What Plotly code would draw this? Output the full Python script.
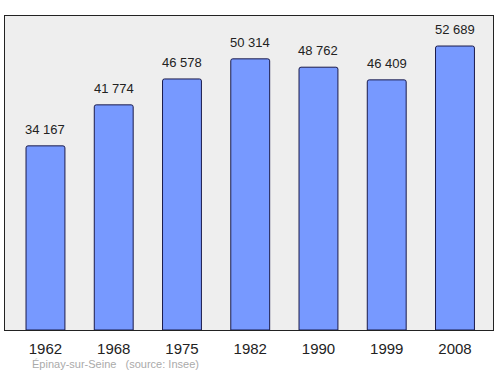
import plotly.graph_objects as go

years = ["1962", "1968", "1975", "1982", "1990", "1999", "2008"]
population = [34167, 41774, 46578, 50314, 48762, 46409, 52689]
labels = ["34 167", "41 774", "46 578", "50 314", "48 762", "46 409", "52 689"]

xs = list(range(len(years)))
font = "Liberation Sans, Arial, sans-serif"

fig = go.Figure()
fig.add_trace(go.Bar(
    x=xs, y=population, width=0.57,
    marker=dict(color="#7799ff", line=dict(color="#1a1a4a", width=1), cornerradius=2),
    hoverinfo="skip",
))
for x, v, t in zip(xs, population, labels):
    fig.add_annotation(x=x, y=v, text=t, showarrow=False, yanchor="bottom", yshift=7,
                       font=dict(family=font, size=13, color="#222"))
fig.add_annotation(xref="paper", yref="paper", x=0.052, y=-0.084, xanchor="left", yanchor="top",
                   text="Épinay-sur-Seine &nbsp; (source: Insee)", showarrow=False,
                   font=dict(family=font, size=11, color="#aaaaaa"))

fig.update_layout(
    width=500, height=374,
    margin=dict(l=5, r=7, t=16, b=44),
    paper_bgcolor="white", plot_bgcolor="#eeeeee",
    showlegend=False,
    xaxis=dict(range=[-0.593, 6.557], tickvals=xs, ticktext=years, showgrid=False, zeroline=False,
               showline=True, mirror=True, linecolor="#222", linewidth=1.2, ticks="",
               ticklabelstandoff=5,
               tickfont=dict(family=font, size=15, color="#222")),
    yaxis=dict(range=[0, 58260], showgrid=False, zeroline=False, showticklabels=False,
               showline=True, mirror=True, linecolor="#222", linewidth=1.2, ticks=""),
)
fig.write_html("out.html")
